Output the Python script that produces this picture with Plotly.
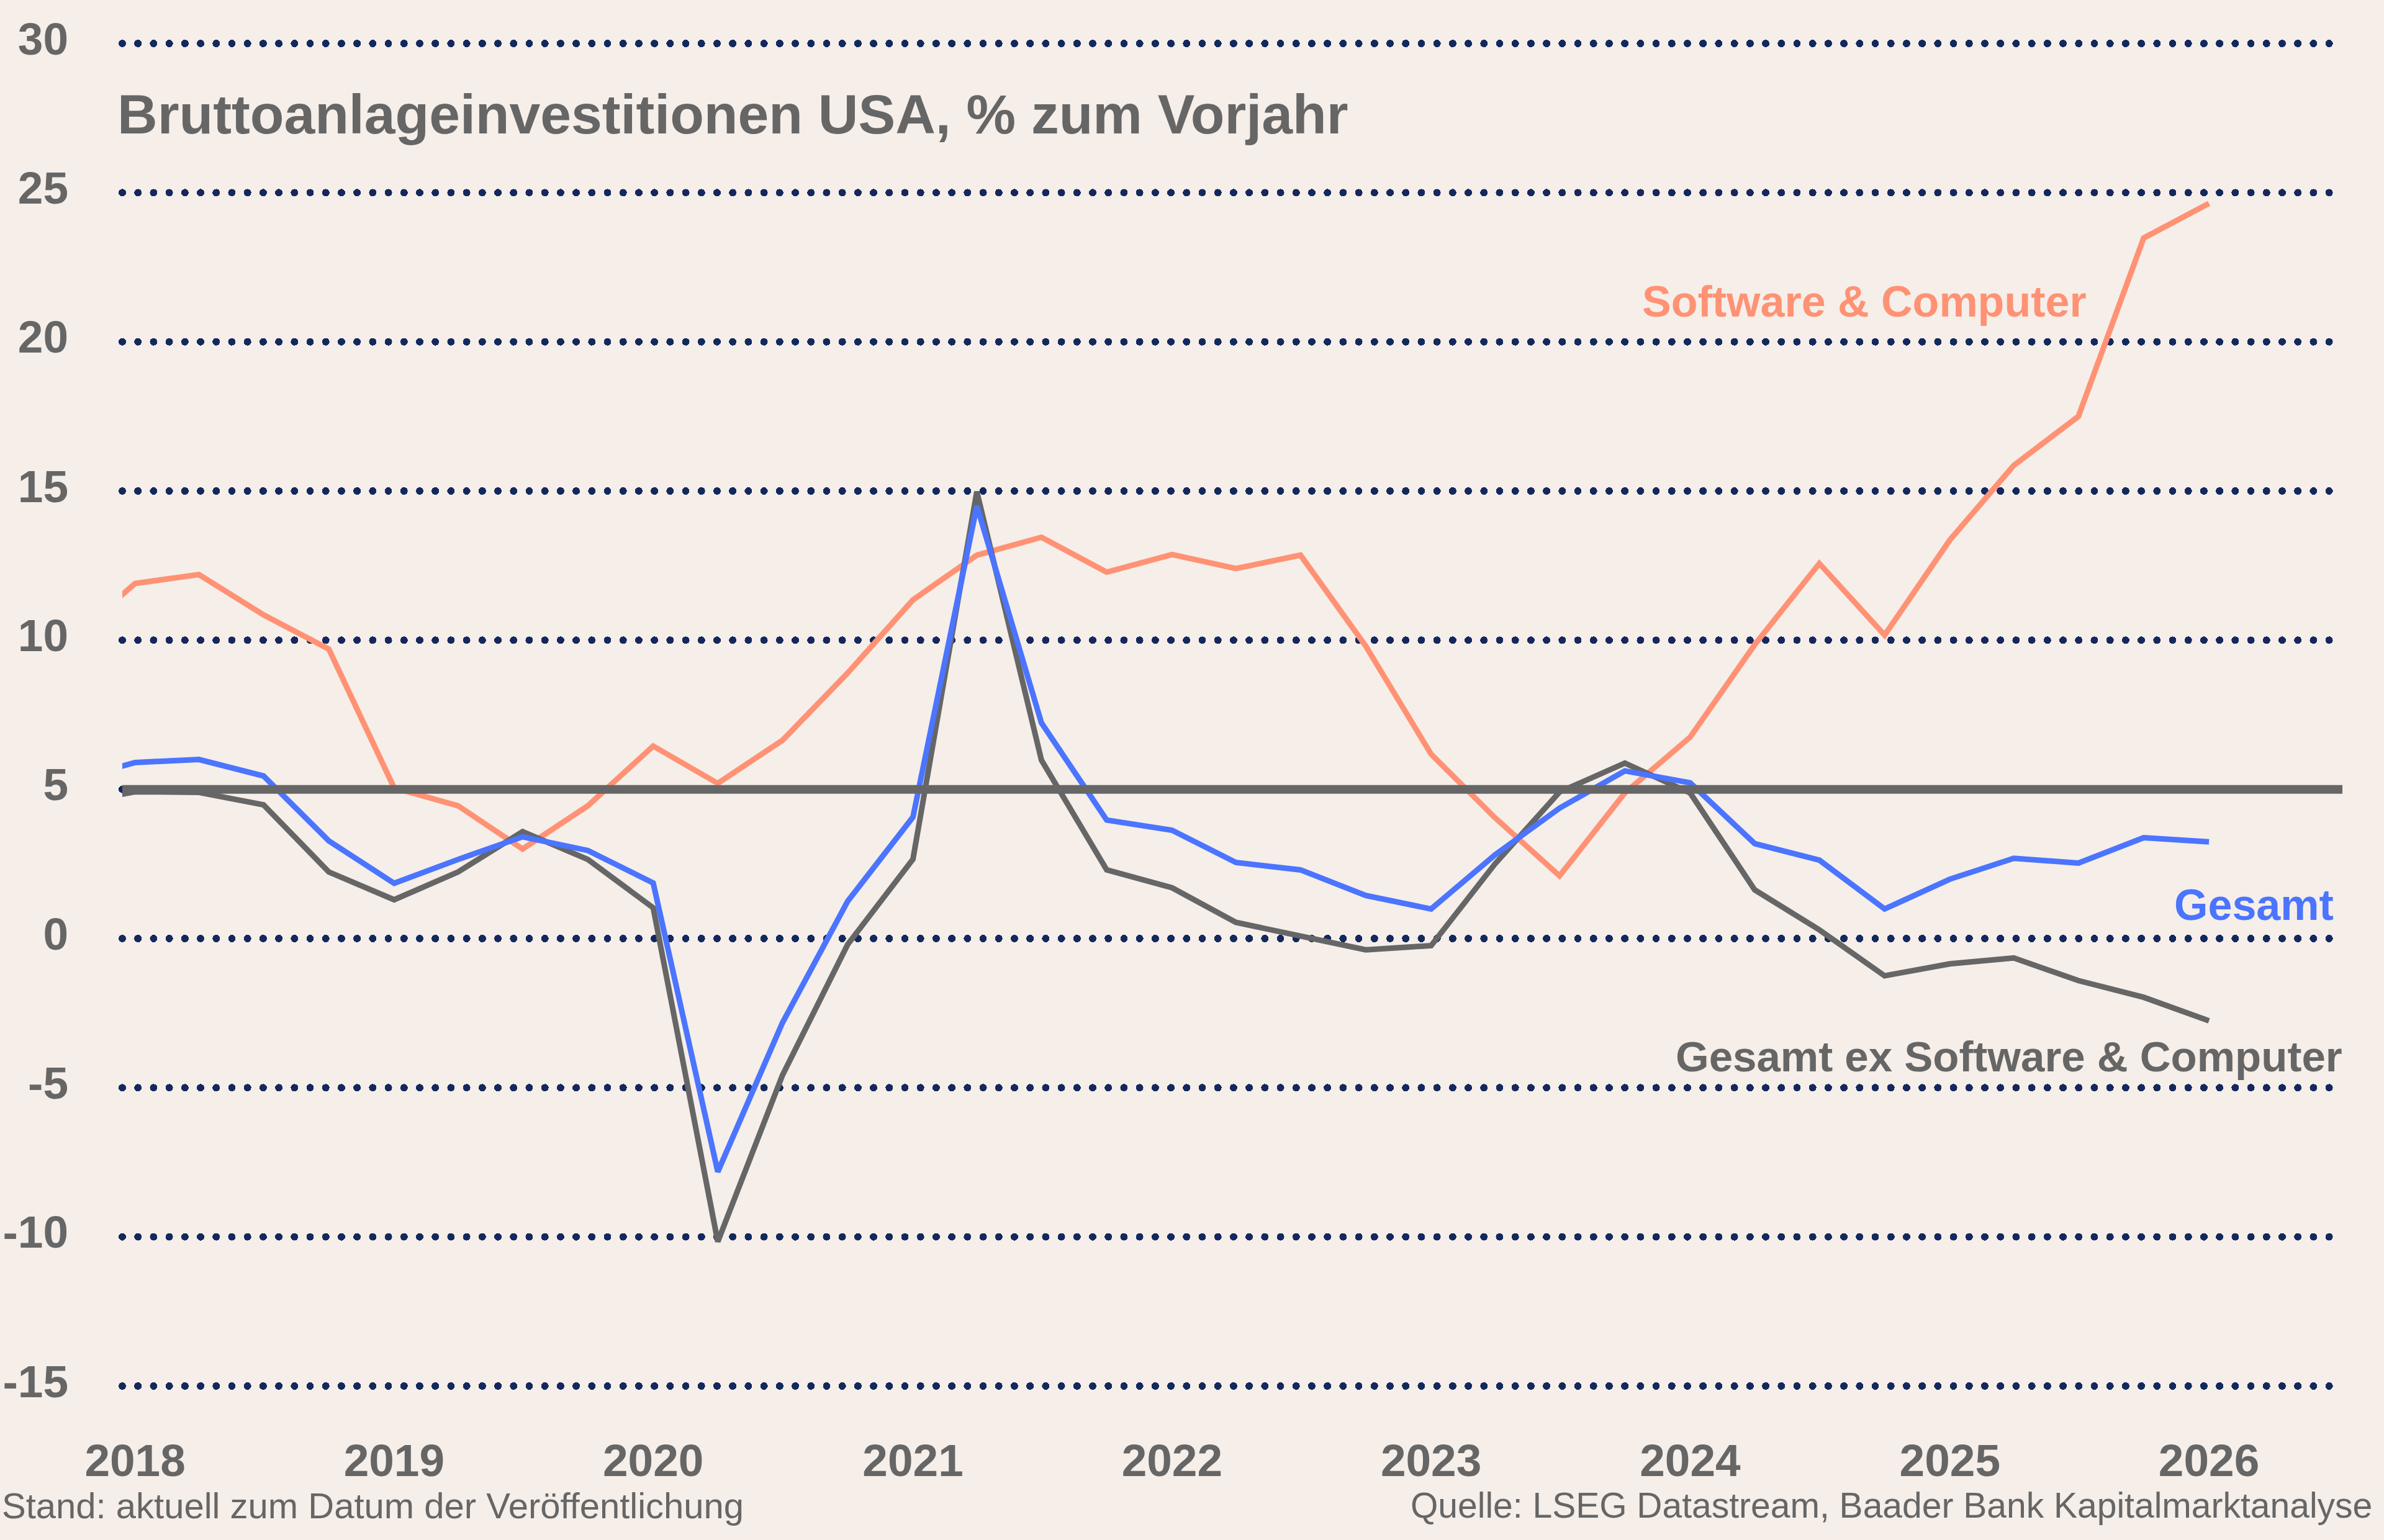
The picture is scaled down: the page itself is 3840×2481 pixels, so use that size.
import plotly.graph_objects as go

# ---------------- data ----------------
quarters = ["2017-10-01",
            "2018-01-01", "2018-04-01", "2018-07-01", "2018-10-01",
            "2019-01-01", "2019-04-01", "2019-07-01", "2019-10-01",
            "2020-01-01", "2020-04-01", "2020-07-01", "2020-10-01",
            "2021-01-01", "2021-04-01", "2021-07-01", "2021-10-01",
            "2022-01-01", "2022-04-01", "2022-07-01", "2022-10-01",
            "2023-01-01", "2023-04-01", "2023-07-01", "2023-10-01",
            "2024-01-01", "2024-04-01", "2024-07-01", "2024-10-01",
            "2025-01-01", "2025-04-01", "2025-07-01", "2025-10-01",
            "2026-01-01"]

software_computer = [10.0,
                     11.9, 12.2, 10.85, 9.7,
                     5.05, 4.45, 3.0, 4.45,
                     6.45, 5.2, 6.64, 8.9,
                     11.35, 12.85, 13.45, 12.28,
                     12.87, 12.4, 12.85, 9.8,
                     6.18, 4.05, 2.1, 4.88,
                     6.75, 9.85, 12.57, 10.17,
                     13.36, 15.86, 17.5, 23.48,
                     24.64]

gesamt = [5.3,
          5.9, 6.0, 5.45, 3.27,
          1.85, 2.65, 3.41, 2.95,
          1.86, -7.82, -2.83, 1.25,
          4.07, 14.5, 7.23, 3.97,
          3.63, 2.55, 2.3, 1.44,
          0.99, 2.8, 4.37, 5.62,
          5.22, 3.18, 2.63, 0.99,
          1.99, 2.69, 2.53, 3.38,
          3.24]

gesamt_ex = [4.5,
             4.92, 4.9, 4.48, 2.23,
             1.3, 2.23, 3.58, 2.65,
             1.03, -10.16, -4.59, -0.2,
             2.66, 14.98, 5.98, 2.3,
             1.7, 0.54, 0.09, -0.38,
             -0.24, 2.5, 4.91, 5.88,
             4.88, 1.63, 0.29, -1.25,
             -0.85, -0.65, -1.41, -1.97,
             -2.76]

year_ticks = ["2018", "2019", "2020", "2021", "2022", "2023", "2024", "2025", "2026"]
y_ticks = [30, 25, 20, 15, 10, 5, 0, -5, -10, -15]
reference_level = 5

title_text = "Bruttoanlageinvestitionen USA, % zum Vorjahr"
label_software = "Software & Computer"
label_gesamt = "Gesamt"
label_gesamt_ex = "Gesamt ex Software & Computer"
footer_left = "Stand: aktuell zum Datum der Veröffentlichung"
footer_right = "Quelle: LSEG Datastream, Baader Bank Kapitalmarktanalyse"

# ---------------- styling ----------------
W_PX, H_PX = 3840, 2481
ML, MR, MT, MB = 197, 67, 22, 200
PW = W_PX - ML - MR
PH = H_PX - MT - MB
BOTTOM = MT + PH

BG = "#F5EEE9"
GREY = "#666666"
ORANGE = "#FF9274"
BLUE = "#4B74FF"
NAVY = "#13295E"
FONT = "Liberation Sans, Arial, sans-serif"


def px_x(px):
    return (px - ML) / PW


def px_y(py):
    return (BOTTOM - py) / PH


fig = go.Figure()

fig.add_trace(go.Scatter(x=quarters, y=software_computer, mode="lines",
                         line=dict(color=ORANGE, width=9), name=label_software,
                         hoverinfo="skip"))
fig.add_trace(go.Scatter(x=quarters, y=gesamt_ex, mode="lines",
                         line=dict(color=GREY, width=9), name=label_gesamt_ex,
                         hoverinfo="skip"))
fig.add_trace(go.Scatter(x=quarters, y=gesamt, mode="lines",
                         line=dict(color=BLUE, width=9), name=label_gesamt,
                         hoverinfo="skip"))

# solid reference line at 5 (drawn above the series)
fig.add_shape(type="line", xref="paper", yref="y", x0=0, x1=1,
              y0=reference_level, y1=reference_level,
              line=dict(color=GREY, width=14), layer="above")

fig.update_layout(
    width=W_PX, height=H_PX,
    margin=dict(l=ML, r=MR, t=MT, b=MB, pad=0, autoexpand=False),
    paper_bgcolor=BG, plot_bgcolor=BG,
    showlegend=False,
    font=dict(family=FONT, color=GREY),
)

fig.update_xaxes(
    type="date",
    range=["2017-12-14", "2026-07-08"],
    tickvals=[y + "-01-01" for y in year_ticks],
    ticktext=year_ticks,
    showgrid=False, zeroline=False, showline=False, ticks="",
    tickfont=dict(family=FONT, size=73, color=GREY, weight="bold"),
    ticklabelstandoff=23,
    automargin=False,
)

fig.update_yaxes(
    range=[-16, 31],
    tickvals=y_ticks,
    ticktext=[str(v) for v in y_ticks],
    showgrid=True, gridcolor=NAVY, gridwidth=12, griddash="12px,13px",
    zeroline=False, showline=False, ticks="",
    tickfont=dict(family=FONT, size=73, color=GREY, weight="bold"),
    ticklabelstandoff=86,
    ticklabelshift=-8,
    automargin=False,
)

annotations = [
    dict(text=title_text, x=px_x(188), y=px_y(184), xanchor="left", yanchor="middle",
         font=dict(family=FONT, size=89.5, color=GREY, weight="bold")),
    dict(text=label_software, x=px_x(3362), y=px_y(486), xanchor="right", yanchor="middle",
         font=dict(family=FONT, size=70, color=ORANGE, weight="bold")),
    dict(text=label_gesamt, x=px_x(3760), y=px_y(1458), xanchor="right", yanchor="middle",
         font=dict(family=FONT, size=70, color=BLUE, weight="bold")),
    dict(text=label_gesamt_ex, x=px_x(3774), y=px_y(1702), xanchor="right", yanchor="middle",
         font=dict(family=FONT, size=69, color=GREY, weight="bold")),
    dict(text=footer_left, x=px_x(2), y=px_y(2425), xanchor="left", yanchor="middle",
         font=dict(family=FONT, size=58, color=GREY)),
    dict(text=footer_right, x=px_x(3822), y=px_y(2425), xanchor="right", yanchor="middle",
         font=dict(family=FONT, size=57, color=GREY)),
]
for a in annotations:
    a.update(xref="paper", yref="paper", showarrow=False, borderpad=0)
fig.update_layout(annotations=annotations)

post = """
var gd = document.getElementById('{plot_id}');
gd.querySelectorAll('path.ygrid').forEach(function(e){
  e.style.strokeLinecap = 'round';
  e.style.strokeDasharray = '0.01px,25.2px';
});
"""

fig.write_html("out.html", post_script=post)
